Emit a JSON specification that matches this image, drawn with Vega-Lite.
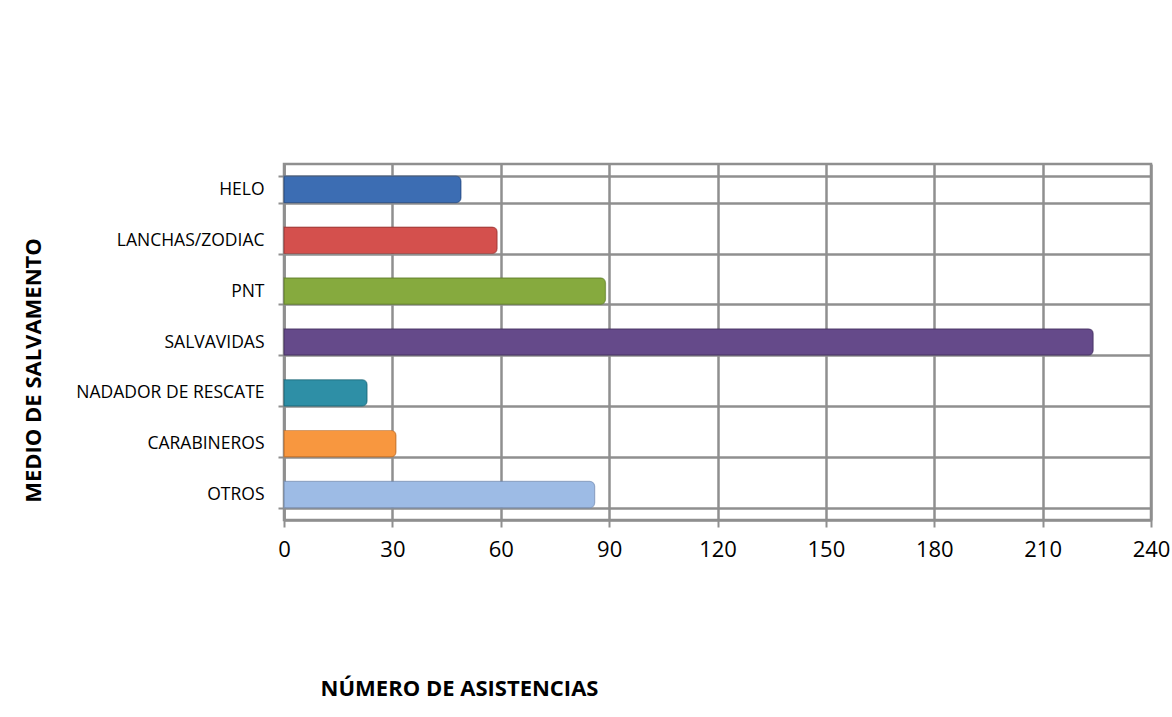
{
  "$schema": "https://vega.github.io/schema/vega-lite/v6.json",
  "autosize": {"type": "none"},
  "width": 867,
  "height": 356,
  "padding": {"left": 284, "top": 164, "right": 21, "bottom": 197},
  "background": "#ffffff",
  "config": {
    "view": {"stroke": "#8f8f8f", "strokeWidth": 2.5},
    "font": "Open Sans"
  },
  "data": {
    "values": [
      {"medio": "HELO", "asistencias": 49},
      {"medio": "LANCHAS/ZODIAC", "asistencias": 59},
      {"medio": "PNT", "asistencias": 89},
      {"medio": "SALVAVIDAS", "asistencias": 224},
      {"medio": "NADADOR DE RESCATE", "asistencias": 23},
      {"medio": "CARABINEROS", "asistencias": 31},
      {"medio": "OTROS", "asistencias": 86}
    ]
  },
  "mark": {"type": "bar", "cornerRadiusEnd": 5, "strokeWidth": 1.2, "strokeOpacity": 0.6},
  "encoding": {
    "y": {
      "field": "medio",
      "type": "nominal",
      "sort": null,
      "scale": {"paddingInner": 0.48, "paddingOuter": 0.24},
      "axis": {
        "title": "MEDIO DE SALVAMENTO",
        "titleFont": "Open Sans",
        "titleFontSize": 22,
        "titleFontWeight": "bold",
        "titleColor": "#000000",
        "titleX": -251,
        "titleY": 206,
        "titleAngle": -90,
        "titleAlign": "center",
        "titleBaseline": "middle",
        "labelFont": "Open Sans",
        "labelFontSize": 17.5,
        "labelLimit": 400,
        "labelColor": "#000000",
        "labelPadding": 14,
        "tickBand": "extent",
        "tickSize": 6,
        "tickColor": "#8f8f8f",
        "tickWidth": 2,
        "domainColor": "#8f8f8f",
        "domainWidth": 2.5,
        "grid": true,
        "gridColor": "#8f8f8f",
        "gridWidth": 2.5
      }
    },
    "x": {
      "field": "asistencias",
      "type": "quantitative",
      "scale": {"domain": [0, 240], "nice": false},
      "axis": {
        "values": [0, 30, 60, 90, 120, 150, 180, 210, 240],
        "title": "NÚMERO DE ASISTENCIAS",
        "titleFont": "Open Sans",
        "titleFontSize": 22,
        "titleFontWeight": "bold",
        "titleColor": "#000000",
        "titleX": 175,
        "titleY": 168,
        "titleAlign": "center",
        "titleBaseline": "middle",
        "labelFont": "Open Sans",
        "labelFontSize": 22,
        "labelColor": "#000000",
        "labelPadding": 12,
        "labelFlush": false,
        "tickSize": 7,
        "tickColor": "#8f8f8f",
        "tickWidth": 2,
        "domainColor": "#8f8f8f",
        "domainWidth": 2.5,
        "grid": true,
        "gridColor": "#8f8f8f",
        "gridWidth": 2.5
      }
    },
    "color": {
      "field": "medio",
      "type": "nominal",
      "legend": null,
      "scale": {
        "domain": ["HELO", "LANCHAS/ZODIAC", "PNT", "SALVAVIDAS", "NADADOR DE RESCATE", "CARABINEROS", "OTROS"],
        "range": ["#3c6db3", "#d4504d", "#86aa3e", "#654a8a", "#2e8fa6", "#f8973f", "#9dbbe5"]
      }
    },
    "stroke": {
      "field": "medio",
      "type": "nominal",
      "legend": null,
      "scale": {
        "domain": ["HELO", "LANCHAS/ZODIAC", "PNT", "SALVAVIDAS", "NADADOR DE RESCATE", "CARABINEROS", "OTROS"],
        "range": ["#2a4f85", "#9e3a38", "#62802c", "#4a3566", "#206a7c", "#c0702c", "#7690b5"]
      }
    }
  }
}
